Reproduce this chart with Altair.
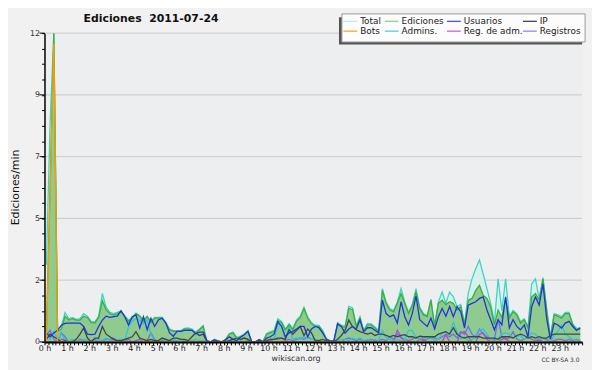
import altair as alt
import pandas as pd

# ---------------- data (edits per minute, one value per 10-minute slot) ----------------
hour_labels = [f"{h} h" for h in range(24)]
y_major = [0, 2.4, 4.8, 7.2, 9.6, 12]
y_major_labels = ["0", "2", "5", "7", "9", "12"]

series_names = ["Total", "Ediciones", "Usuarios", "IP", "Bots", "Admins.", "Reg. de adm.", "Registros"]
legend_colors = ["#b4ecec", "#88cc88", "#4040e0", "#333333", "#ff9922", "#44c8d8", "#d050d0", "#8080f0"]
line_colors = ["#3ad6c6", "#3cae3c", "#2233dd", "#444444", "#ff9900", "#2ec4dc", "#b444e0", "#6f6ff0"]

total = [3.0, 8.5, 12.0, 0.5, 0.6, 1.14, 0.9, 0.95, 0.88, 0.9, 1.1, 1.0,
         0.8, 0.78, 1.0, 1.88, 1.35, 1.15, 1.1, 1.15, 1.2, 1.02, 0.85, 0.96,
         1.12, 1.02, 0.84, 1.0, 0.8, 0.95, 0.95, 0.96, 0.76, 0.5, 0.45, 0.44,
         0.44, 0.53, 0.54, 0.5, 0.38, 0.5, 0.64, 0.02, 0.0, 0.1, 0.05, 0.0,
         0.1, 0.33, 0.38, 0.18, 0.23, 0.3, 0.44, 0.02, 0.0, 0.1, 0.02, 0.33,
         0.4, 0.45, 0.9, 0.8, 0.5, 0.7, 0.52, 0.85, 1.0, 1.35, 0.96, 0.75,
         0.65, 0.64, 0.45, 0.13, 0.05, 0.05, 0.75, 0.65, 0.6, 1.38, 1.33, 0.65,
         0.98, 0.45, 0.72, 0.7, 0.58, 0.45, 2.07, 1.55, 1.3, 1.22, 1.55, 2.07,
         1.55, 1.15, 1.45, 2.07, 1.35, 1.1, 1.02, 1.66, 0.65, 1.55, 1.94, 1.5,
         1.94, 1.75, 1.37, 1.45, 0.7, 1.9, 2.45, 2.84, 3.18, 2.64, 2.07, 1.5,
         0.75, 2.45, 1.2, 2.45, 1.0, 1.22, 1.1, 0.78, 0.9, 0.6, 2.26, 2.45,
         1.66, 2.5, 1.3, 0.2, 1.1, 1.05, 0.98, 1.15, 1.15, 0.7, 0.52, 0.55]

ediciones = [0.4, 6.0, 12.0, 0.4, 0.5, 1.0, 0.85, 0.9, 0.85, 0.85, 1.0, 0.95,
             0.75, 0.73, 0.95, 1.6, 1.25, 1.1, 1.05, 1.1, 1.17, 0.98, 0.8, 0.92,
             1.1, 1.0, 0.8, 0.98, 0.75, 0.92, 0.92, 0.92, 0.73, 0.47, 0.41, 0.41,
             0.41, 0.5, 0.5, 0.47, 0.35, 0.47, 0.6, 0.0, 0.0, 0.08, 0.03, 0.0,
             0.08, 0.3, 0.35, 0.15, 0.2, 0.28, 0.41, 0.0, 0.0, 0.08, 0.0, 0.3,
             0.35, 0.4, 0.83, 0.75, 0.47, 0.66, 0.47, 0.8, 0.95, 1.3, 0.92, 0.7,
             0.6, 0.6, 0.4, 0.1, 0.03, 0.03, 0.7, 0.6, 0.55, 1.3, 1.26, 0.6,
             0.92, 0.4, 0.66, 0.66, 0.54, 0.4, 2.0, 1.5, 1.24, 1.17, 1.5, 1.88,
             1.5, 1.1, 1.4, 1.94, 1.3, 1.05, 0.98, 1.62, 0.6, 1.5, 1.62, 1.45,
             1.56, 1.5, 1.24, 1.37, 0.66, 1.62, 1.69, 2.0, 2.2, 1.81, 1.69, 1.37,
             0.66, 1.24, 0.95, 1.7, 0.92, 1.17, 1.05, 0.73, 0.86, 0.54, 1.75, 1.88,
             1.62, 2.45, 1.24, 0.15, 1.05, 1.0, 0.92, 1.1, 1.1, 0.66, 0.47, 0.5]

usuarios = [0.35, 0.2, 0.35, 0.45, 0.65, 0.72, 0.73, 0.73, 0.73, 0.73, 0.6, 0.3,
            0.28, 0.3, 0.6, 0.85, 1.0, 0.95, 0.98, 1.0, 1.21, 0.98, 0.66, 0.98,
            1.05, 0.54, 0.98, 0.47, 0.92, 0.6, 0.85, 0.92, 0.73, 0.35, 0.22, 0.41,
            0.41, 0.45, 0.45, 0.45, 0.32, 0.38, 0.38, 0.05, 0.0, 0.08, 0.03, 0.0,
            0.08, 0.2, 0.1, 0.05, 0.18, 0.28, 0.41, 0.0, 0.0, 0.08, 0.0, 0.15,
            0.2, 0.3, 0.79, 0.6, 0.2, 0.35, 0.4, 0.5, 0.6, 0.6, 0.2, 0.5,
            0.6, 0.55, 0.35, 0.1, 0.03, 0.03, 0.7, 0.6, 0.34, 0.5, 0.6, 0.5,
            0.85, 0.4, 0.55, 0.55, 0.45, 0.35, 1.62, 1.1, 0.98, 1.05, 0.73, 1.56,
            0.98, 0.66, 1.1, 1.78, 0.86, 0.73, 0.6, 0.92, 0.5, 0.98, 1.3, 1.0,
            1.37, 0.98, 1.37, 1.17, 0.54, 1.43, 1.5, 1.56, 1.69, 1.75, 1.24, 0.86,
            0.47, 0.86, 0.66, 1.75, 0.54, 0.86, 0.6, 0.47, 0.66, 0.2, 1.37, 1.75,
            1.43, 2.26, 0.9, 0.1, 0.73, 0.66, 0.54, 0.73, 0.8, 0.6, 0.45, 0.55]

ip = [0.1, 0.3, 0.2, 0.1, 0.0, 0.05, 0.0, 0.0, 0.1, 0.3, 0.54, 0.15,
      0.0, 0.15, 0.15, 0.6, 0.3, 0.2, 0.1, 0.05, 0.05, 0.1, 0.15, 0.2,
      0.4, 0.15, 0.1, 0.05, 0.1, 0.05, 0.05, 0.15, 0.1, 0.05, 0.15, 0.15,
      0.1, 0.1, 0.05, 0.2, 0.35, 0.25, 0.3, 0.0, 0.0, 0.0, 0.03, 0.0,
      0.0, 0.05, 0.1, 0.15, 0.1, 0.15, 0.1, 0.0, 0.0, 0.0, 0.0, 0.05,
      0.1, 0.1, 0.15, 0.15, 0.1, 0.47, 0.3, 0.45, 0.6, 0.25, 0.5, 0.35,
      0.05, 0.05, 0.1, 0.05, 0.0, 0.0, 0.1, 0.25, 0.45, 0.85, 0.6, 0.47,
      0.4, 0.35, 0.3, 0.35, 0.25, 0.3, 0.3, 0.25, 0.2, 0.25, 0.2, 0.25,
      0.28, 0.2, 0.2, 0.15, 0.22, 0.2, 0.2, 0.2, 0.2, 0.3, 0.35, 0.4,
      0.3, 0.55, 0.3, 0.2, 0.15, 0.2, 0.2, 0.2, 0.2, 0.15, 0.15, 0.15,
      0.15, 0.1, 0.2, 0.2, 0.2, 0.15, 0.25, 0.3, 0.25, 0.15, 0.2, 0.15,
      0.2, 0.15, 0.15, 0.25, 0.3, 0.3, 0.3, 0.3, 0.3, 0.3, 0.3, 0.3]

bots = [0.0, 5.8, 11.6] + [0.0] * 141

admins = [0.3, 0.1, 0.4, 0.1, 0.3, 0.1, 0.05, 0.1, 0.05, 0.0, 0.1, 0.05,
          0.0, 0.05, 0.1, 0.05, 0.15, 0.05, 0.05, 0.1, 0.1, 0.05, 0.6, 0.8,
          0.9, 0.85, 0.7, 0.85, 0.3, 0.05, 0.05, 0.1, 0.05, 0.0, 0.1, 0.05,
          0.1, 0.05, 0.0, 0.05, 0.1, 0.05, 0.05, 0.0, 0.0, 0.0, 0.0, 0.0,
          0.0, 0.05, 0.1, 0.0, 0.05, 0.15, 0.1, 0.0, 0.0, 0.0, 0.0, 0.05,
          0.1, 0.1, 0.7, 0.65, 0.1, 0.6, 0.1, 0.15, 0.1, 0.2, 0.15, 0.1,
          0.1, 0.05, 0.0, 0.0, 0.0, 0.0, 0.05, 0.1, 0.1, 0.05, 0.15, 0.1,
          0.15, 0.05, 0.1, 0.05, 0.1, 0.05, 0.45, 0.15, 0.1, 0.05, 0.1, 0.05,
          0.1, 0.45, 0.45, 0.15, 0.1, 0.2, 0.1, 0.15, 0.05, 0.1, 0.35, 0.4,
          0.3, 0.75, 0.4, 0.1, 0.2, 0.05, 0.1, 0.15, 0.45, 0.5, 0.3, 0.1,
          0.05, 0.15, 0.3, 0.35, 0.3, 0.15, 0.2, 0.25, 0.1, 0.2, 0.35, 0.3,
          0.1, 0.15, 0.05, 0.0, 0.25, 0.4, 0.65, 0.3, 0.2, 0.1, 0.05, 0.1]

reg_adm = [0.0, 0.0, 0.0, 0.0, 0.1, 0.1, 0.0, 0.0, 0.0, 0.0, 0.0, 0.0,
           0.0, 0.0, 0.0, 0.0, 0.0, 0.0, 0.1, 0.0, 0.0, 0.0, 0.0, 0.0,
           0.0, 0.0, 0.0, 0.0, 0.0, 0.0, 0.0, 0.0, 0.0, 0.0, 0.0, 0.0,
           0.0, 0.0, 0.0, 0.0, 0.0, 0.0, 0.0, 0.0, 0.0, 0.0, 0.0, 0.0,
           0.0, 0.0, 0.0, 0.0, 0.0, 0.0, 0.0, 0.0, 0.0, 0.0, 0.0, 0.0,
           0.0, 0.0, 0.0, 0.0, 0.0, 0.0, 0.0, 0.0, 0.0, 0.0, 0.0, 0.0,
           0.0, 0.0, 0.0, 0.0, 0.0, 0.0, 0.0, 0.0, 0.0, 0.0, 0.0, 0.0,
           0.0, 0.0, 0.0, 0.0, 0.0, 0.0, 0.0, 0.0, 0.0, 0.0, 0.45, 0.2,
           0.0, 0.0, 0.0, 0.0, 0.1, 0.1, 0.0, 0.0, 0.0, 0.0, 0.0, 0.28,
           0.0, 0.0, 0.0, 0.35, 0.4, 0.2, 0.0, 0.0, 0.3, 0.35, 0.1, 0.0,
           0.0, 0.0, 0.1, 0.15, 0.0, 0.0, 0.0, 0.0, 0.0, 0.0, 0.0, 0.0,
           0.1, 0.0, 0.0, 0.0, 0.0, 0.0, 0.0, 0.0, 0.0, 0.0, 0.0, 0.0]

registros = [0.25, 0.45, 0.1, 0.0, 0.35, 0.2, 0.0, 0.05, 0.0, 0.1, 0.05, 0.0,
             0.05, 0.1, 0.0, 0.05, 0.1, 0.1, 0.15, 0.05, 0.0, 0.05, 0.1, 0.0,
             0.05, 0.1, 0.0, 0.05, 0.35, 0.1, 0.0, 0.05, 0.1, 0.0, 0.05, 0.0,
             0.0, 0.05, 0.0, 0.05, 0.0, 0.0, 0.0, 0.0, 0.0, 0.0, 0.0, 0.0,
             0.0, 0.05, 0.0, 0.0, 0.0, 0.0, 0.05, 0.0, 0.0, 0.0, 0.0, 0.0,
             0.05, 0.1, 0.1, 0.15, 0.05, 0.1, 0.05, 0.1, 0.15, 0.1, 0.2, 0.1,
             0.1, 0.05, 0.0, 0.0, 0.0, 0.0, 0.05, 0.0, 0.1, 0.15, 0.1, 0.05,
             0.1, 0.05, 0.05, 0.1, 0.05, 0.05, 0.1, 0.05, 0.2, 0.1, 0.3, 0.15,
             0.1, 0.05, 0.1, 0.2, 0.1, 0.05, 0.1, 0.2, 0.15, 0.1, 0.2, 0.3,
             0.2, 0.3, 0.15, 0.4, 0.3, 0.6, 0.3, 0.2, 0.5, 0.3, 0.2, 0.1,
             0.1, 0.9, 0.2, 0.1, 0.15, 0.4, 0.1, 0.05, 0.1, 0.2, 0.1, 0.05,
             0.1, 0.15, 0.1, 0.0, 0.05, 0.1, 0.1, 0.05, 0.1, 0.05, 0.1, 0.05]

series_values = [total, ediciones, usuarios, ip, bots, admins, reg_adm, registros]

# ---------------- build tables ----------------
n = len(ediciones)
hours = [(i + 0.5) / 6 for i in range(n)]  # centre of each 10-minute slot, in hours
wide = pd.DataFrame({"h": hours, "total": total, "edic": ediciones})
long_frames = {
    name: pd.DataFrame({"h": hours, "v": vals})
    for name, vals in zip(series_names, series_values)
}

FONT = "DejaVu Sans"
W, H = 545, 313

x_ticks = [i / 6 for i in range(24 * 6 + 1)]
y_ticks = [round(i * 0.6, 2) for i in range(21)]

hour_arr = "[" + ",".join(f"'{s}'" for s in hour_labels) + "]"
x_label_expr = (f"(abs(datum.value - round(datum.value)) < 0.01 && datum.value < 23.5) "
                f"? {hour_arr}[round(datum.value)] : ''")
y_label_expr = ""
for v, lab in zip(y_major, y_major_labels):
    y_label_expr += f"abs(datum.value - {v}) < 0.01 ? '{lab}' : "
y_label_expr += "''"

x_scale = alt.Scale(domain=[0, 24], nice=False, zero=False)
y_scale = alt.Scale(domain=[0, 12], nice=False, zero=True)

x_axis = alt.Axis(values=x_ticks, labelExpr=x_label_expr, tickSize=3, tickColor="#000",
                  tickWidth=1, domainColor="#000", domainWidth=2, labelFont=FONT,
                  labelFontSize=8, labelColor="#222", labelPadding=0, labelOverlap=False,
                  labelFlush=False, grid=False, title=None, zindex=1)
y_axis = alt.Axis(values=y_ticks, labelExpr=y_label_expr, tickSize=3, tickColor="#000",
                  tickWidth=1, domainColor="#000", domainWidth=1.5, labelFont=FONT,
                  labelFontSize=8, labelColor="#333", labelPadding=2, labelOverlap=False,
                  labelFlush=False, grid=False, title=None, zindex=1)


def X():
    return alt.X("h:Q", scale=x_scale, axis=x_axis)


def Y(field):
    return alt.Y(field, scale=y_scale, axis=y_axis)


one = pd.DataFrame({"a": [0]})
layers = []

# grid lines
layers.append(
    alt.Chart(pd.DataFrame({"g": y_major[1:]})).mark_rule(color="#c9c9c9", strokeWidth=1)
    .encode(y=Y("g:Q"))
)
# longer major ticks on the y axis
layers.append(
    alt.Chart(pd.DataFrame({"g": y_major})).mark_rule(color="#000", strokeWidth=1)
    .encode(y=Y("g:Q"), x=alt.value(-5), x2=alt.value(0))
)
# Total area (pale) and Ediciones area (green)
layers.append(
    alt.Chart(wide).mark_area(color="#d6f1e9", clip=True)
    .encode(x=X(), y=Y("total:Q"))
)
layers.append(
    alt.Chart(wide).mark_area(color="#8fca8f", clip=True)
    .encode(x=X(), y=Y("edic:Q"))
)
# lines
draw_order = ["Registros", "Reg. de adm.", "Admins.", "IP", "Total", "Ediciones", "Usuarios", "Bots"]
for name in draw_order:
    idx = series_names.index(name)
    layers.append(
        alt.Chart(long_frames[name]).mark_line(color=line_colors[idx], strokeWidth=1.3, clip=True)
        .encode(x=X(), y=Y("v:Q"))
    )


# title, axis title, footer texts
def txt(s, x, y, size, bold=False, angle=0, color="#111", align="center"):
    kw = dict(text=s, font=FONT, fontSize=size, color=color, align=align, baseline="middle")
    if bold:
        kw["fontWeight"] = "bold"
    if angle:
        kw["angle"] = angle
    return alt.Chart(one).mark_text(**kw).encode(x=alt.value(x), y=alt.value(y))


layers.append(txt("Ediciones\u00a0 2011-07-24", 108, -14, 11, bold=True))
layers.append(txt("Ediciones/min", -29, H / 2, 11, angle=270))
layers.append(txt("wikiscan.org", 255, 330, 8, color="#333"))
layers.append(txt("CC BY-SA 3.0", 523, 331, 6, color="#333"))

# legend box with shadow
layers.append(alt.Chart(one).mark_rect(color="#555555")
              .encode(x=alt.value(298.5), x2=alt.value(545), y=alt.value(-16), y2=alt.value(11.5)))
layers.append(alt.Chart(one).mark_rect(fill="#fcfcfc", stroke="#9a9a9a", strokeWidth=1)
              .encode(x=alt.value(301.5), x2=alt.value(548), y=alt.value(-19.5), y2=alt.value(9)))
col_x = [303, 345, 408, 485]
row_y = [-12, -2]
for i, (name, col) in enumerate(zip(series_names, legend_colors)):
    lx = col_x[i % 4]
    ly = row_y[i // 4]
    layers.append(alt.Chart(one).mark_rule(color=col, strokeWidth=1.2)
                  .encode(x=alt.value(lx), x2=alt.value(lx + 14), y=alt.value(ly)))
    layers.append(txt(name, lx + 17, ly, 9, align="left", color="#222"))

chart = alt.layer(*layers).properties(
    width=W, height=H,
    background="#f1f1f1",
    autosize=alt.AutoSizeParams(type="none"),
    padding={"left": 37, "top": 23, "right": 10, "bottom": 26},
).configure_view(fill="#edeef0", strokeWidth=0)

chart.save("out.html", embed_options={"renderer": "svg", "actions": False})
